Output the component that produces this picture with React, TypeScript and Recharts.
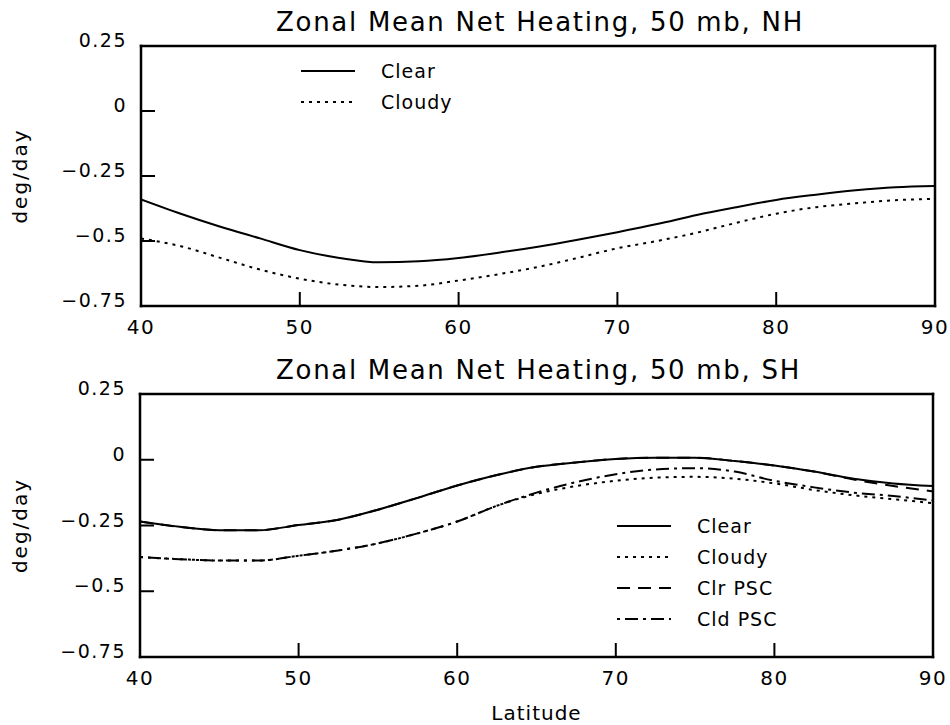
import React from "react";
import { LineChart, Line, XAxis, YAxis, Legend } from "recharts";

// latitude grid (deg N / deg S)
const latitude = [40, 42.5, 45, 47.5, 50, 52.5, 55, 57.5, 60, 62.5, 65, 67.5, 70, 72.5, 75, 77.5, 80, 82.5, 85, 87.5, 90];

// NH, 50 mb, deg/day
const nhClear = [-0.34, -0.395, -0.445, -0.49, -0.535, -0.565, -0.582, -0.578, -0.565, -0.545, -0.522, -0.495, -0.466, -0.435, -0.4, -0.37, -0.342, -0.322, -0.305, -0.293, -0.288];
const nhCloudy = [-0.49, -0.52, -0.565, -0.61, -0.645, -0.668, -0.677, -0.672, -0.652, -0.628, -0.6, -0.565, -0.528, -0.5, -0.468, -0.43, -0.395, -0.37, -0.355, -0.343, -0.338];

// SH, 50 mb, deg/day
const shClear = [-0.235, -0.255, -0.268, -0.268, -0.248, -0.228, -0.19, -0.145, -0.098, -0.058, -0.027, -0.01, 0.003, 0.008, 0.008, -0.005, -0.022, -0.045, -0.072, -0.09, -0.1];
const shCloudy = [-0.37, -0.378, -0.383, -0.383, -0.365, -0.345, -0.318, -0.28, -0.235, -0.175, -0.13, -0.1, -0.08, -0.068, -0.065, -0.072, -0.09, -0.115, -0.135, -0.15, -0.165];
const shClrPsc = [-0.235, -0.255, -0.268, -0.268, -0.248, -0.228, -0.19, -0.145, -0.098, -0.058, -0.027, -0.01, 0.003, 0.008, 0.008, -0.005, -0.022, -0.045, -0.075, -0.1, -0.12];
const shCldPsc = [-0.37, -0.378, -0.383, -0.383, -0.365, -0.345, -0.318, -0.28, -0.235, -0.175, -0.125, -0.085, -0.055, -0.037, -0.032, -0.045, -0.08, -0.105, -0.125, -0.138, -0.155];

const xTicks = [40, 50, 60, 70, 80, 90];
const yTicks = [0.25, 0, -0.25, -0.5, -0.75];

const FONT = "'DejaVu Sans', sans-serif";
const TICK = 14;
const axisStyle = { stroke: "#000", strokeWidth: 2.5, strokeLinecap: "square" as const };
const tickLineStyle = { stroke: "#000", strokeWidth: 2 };

const dashes: Record<string, string | undefined> = {
  Clear: undefined,
  Cloudy: "3 5",
  "Clr PSC": "13 8",
  "Cld PSC": "3 5 13 5",
};

const nhData = latitude.map((lat, i) => ({ lat, clear: nhClear[i], cloudy: nhCloudy[i] }));
const shData = latitude.map((lat, i) => ({
  lat,
  clear: shClear[i],
  cloudy: shCloudy[i],
  clrPsc: shClrPsc[i],
  cldPsc: shCldPsc[i],
}));

const fmtY = (v: number) => (v < 0 ? "\u2212" + String(Math.abs(v)) : String(v));

// labels only; the inward tick marks come from tickLine with a negative tickSize
const BottomTick = (props: any) => {
  const { x, y, payload } = props;
  return (
    <text x={x} y={y} textAnchor="middle" fontSize={20} fontFamily={FONT} letterSpacing={1.5} fill="#000">
      {payload.value}
    </text>
  );
};

const LeftTick = (props: any) => {
  const { x, y, payload } = props;
  return (
    <text x={x} y={y + 1} textAnchor="end" fontSize={19} fontFamily={FONT} letterSpacing={1.5} fill="#000">
      {fmtY(payload.value)}
    </text>
  );
};

const ROW = 31;
const legendContent = (names: string[]) => () => (
  <svg width={220} height={names.length * ROW + 8} style={{ display: "block" }}>
    {names.map((n, i) => (
      <g key={n}>
        <line x1={0} x2={54} y1={16 + i * ROW} y2={16 + i * ROW} stroke="#000" strokeWidth={2} strokeDasharray={dashes[n]} />
        <text x={80} y={23 + i * ROW} fontSize={19} fontFamily={FONT} letterSpacing={1} fill="#000">
          {n}
        </text>
      </g>
    ))}
  </svg>
);

const titleLabel = (text: string) => (props: any) => {
  const vb = props.viewBox;
  return (
    <text x={vb.x + vb.width / 2 + 2} y={vb.y + vb.height - 15} textAnchor="middle" fontSize={26} fontFamily={FONT} letterSpacing={1.7} fill="#000">
      {text}
    </text>
  );
};

const yLabel = (props: any) => {
  const vb = props.viewBox;
  return (
    <text transform={`translate(27, ${vb.y + vb.height / 2}) rotate(-90)`} textAnchor="middle" fontSize={20} fontFamily={FONT} letterSpacing={2} fill="#000">
      deg/day
    </text>
  );
};

const xLabel = (props: any) => {
  const vb = props.viewBox;
  return (
    <text x={vb.x + vb.width / 2} y={vb.y + 63} textAnchor="middle" fontSize={20} fontFamily={FONT} letterSpacing={1} fill="#000">
      Latitude
    </text>
  );
};

type Series = { key: string; name: string; alt?: boolean };

type PanelProps = {
  data: any[];
  series: Series[];
  title: string;
  height: number;
  topH: number;
  bottomH: number;
  leftW: number;
  rightW: number;
  legendPos: { left: number; top: number };
  showXLabel?: boolean;
};

// top/right axes share the same domains; one series is bound to them so they get ticks
const Panel = ({ data, series, title, height, topH, bottomH, leftW, rightW, legendPos, showXLabel }: PanelProps) => (
  <LineChart width={950} height={height} data={data} margin={{ top: 0, right: 0, bottom: 0, left: 0 }}>
    <XAxis
      dataKey="lat"
      type="number"
      domain={[40, 90]}
      ticks={xTicks}
      height={bottomH}
      tickSize={-TICK}
      tickMargin={TICK + 28}
      tickLine={tickLineStyle}
      axisLine={axisStyle}
      tick={BottomTick}
      allowDataOverflow
      label={showXLabel ? { content: xLabel } : undefined}
    />
    <XAxis
      xAxisId="top"
      orientation="top"
      dataKey="lat"
      type="number"
      domain={[40, 90]}
      ticks={xTicks}
      height={topH}
      tickSize={-TICK}
      tickMargin={0}
      tickLine={tickLineStyle}
      axisLine={axisStyle}
      tick={false}
      allowDataOverflow
      label={{ content: titleLabel(title) }}
    />
    <YAxis
      type="number"
      domain={[-0.75, 0.25]}
      ticks={yTicks}
      width={leftW}
      tickSize={-TICK}
      tickMargin={TICK + 14}
      tickLine={tickLineStyle}
      axisLine={axisStyle}
      tick={LeftTick}
      allowDataOverflow
      label={{ content: yLabel }}
    />
    <YAxis
      yAxisId="right"
      orientation="right"
      type="number"
      domain={[-0.75, 0.25]}
      ticks={yTicks}
      width={rightW}
      tickSize={-TICK}
      tickMargin={0}
      tickLine={tickLineStyle}
      axisLine={axisStyle}
      tick={false}
      allowDataOverflow
    />
    <Legend
      layout="vertical"
      align="center"
      verticalAlign="middle"
      content={legendContent(series.map((s) => s.name))}
      wrapperStyle={{ left: legendPos.left, top: legendPos.top, width: 220 }}
    />
    {series.map((s) => (
      <Line
        key={s.key}
        dataKey={s.key}
        name={s.name}
        xAxisId={s.alt ? "top" : 0}
        yAxisId={s.alt ? "right" : 0}
        type="monotone"
        stroke="#000"
        strokeWidth={2}
        strokeDasharray={dashes[s.name]}
        dot={false}
        activeDot={false}
        isAnimationActive={false}
      />
    ))}
  </LineChart>
);

export default function App() {
  return (
    <div style={{ position: "absolute", left: 0, top: 0, width: 950, height: 725, background: "#fff" }}>
      <div style={{ position: "absolute", left: 0, top: 0 }}>
        <Panel
          data={nhData}
          series={[
            { key: "clear", name: "Clear" },
            { key: "cloudy", name: "Cloudy", alt: true },
          ]}
          title="Zonal Mean Net Heating, 50 mb, NH"
          height={340}
          topH={46}
          bottomH={34}
          leftW={141}
          rightW={15}
          legendPos={{ left: 301, top: 55 }}
        />
      </div>
      <div style={{ position: "absolute", left: 0, top: 340 }}>
        <Panel
          data={shData}
          series={[
            { key: "clear", name: "Clear" },
            { key: "cloudy", name: "Cloudy", alt: true },
            { key: "clrPsc", name: "Clr PSC" },
            { key: "cldPsc", name: "Cld PSC" },
          ]}
          title="Zonal Mean Net Heating, 50 mb, SH"
          height={385}
          topH={54}
          bottomH={68}
          leftW={140}
          rightW={17}
          legendPos={{ left: 617, top: 170 }}
          showXLabel
        />
      </div>
    </div>
  );
}
